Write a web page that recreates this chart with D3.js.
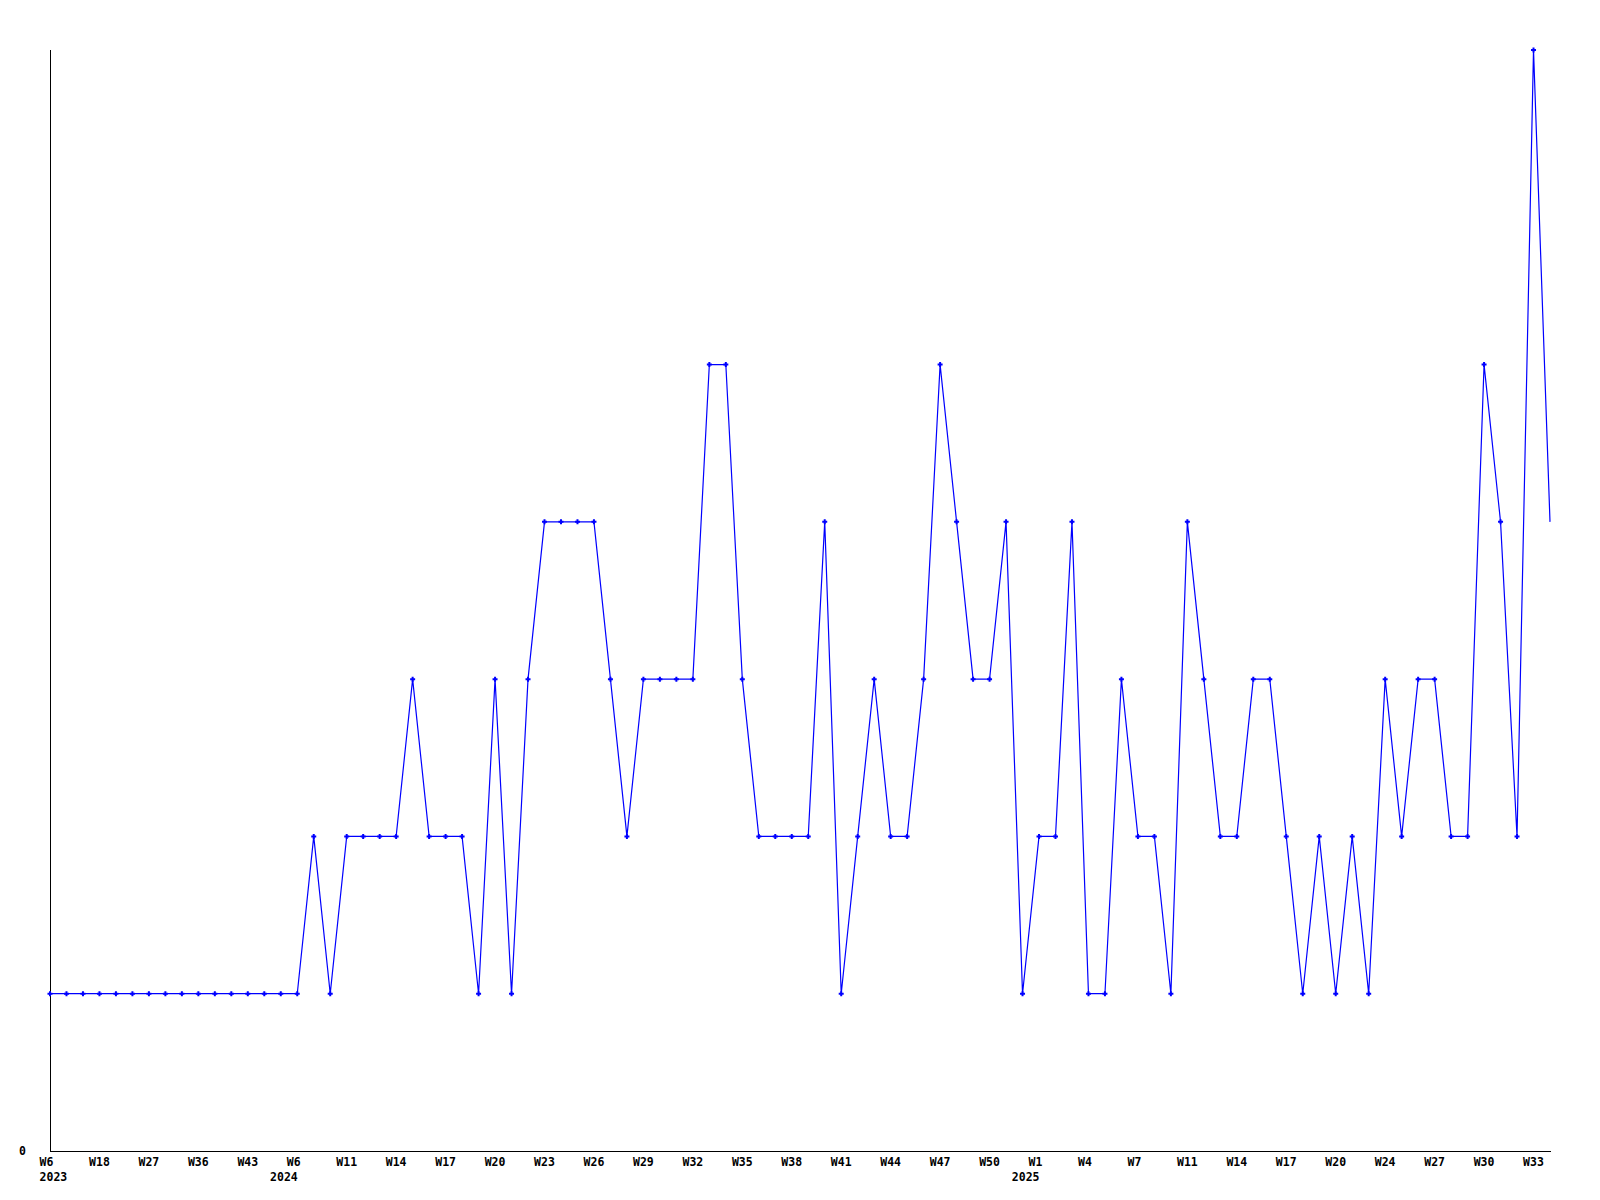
<!DOCTYPE html>
<html>
<head>
<meta charset="utf-8">
<script src="https://cdn.jsdelivr.net/npm/d3@7"></script>
<style>
  html, body { margin: 0; padding: 0; background: #fff; }
  svg { display: block; }
  text { font-family: "DejaVu Sans Mono", "Liberation Mono", monospace; font-weight: bold; font-size: 11.5px; fill: #000; }
</style>
</head>
<body>
<script>
// ---- data ----
const values = [1,1,1,1,1,1,1,1,1,1,1,1,1,1,1,1,
  2,1,2,2,2,2,3,2,2,2,1,3,1,3,4,4,4,4,3,2,3,3,3,3,5,5,3,2,2,2,2,4,1,2,
  3,2,2,3,5,4,3,3,4,1,2,2,4,1,1,3,2,2,1,4,3,2,2,3,3,2,1,2,1,2,1,3,2,3,
  3,2,2,5,4,2,7,4];
const tickLabels = ["W6","W18","W27","W36","W43","W6","W11","W14","W17","W20","W23","W26","W29","W32","W35","W38","W41","W44","W47","W50","W1","W4","W7","W11","W14","W17","W20","W24","W27","W30","W33"];
const tickStep = 3;
const yearLabels = ["2023","2024","2025"];
const yearIndex = [0, 15, 60];
const yTicks = [0];

// ---- chart ----
const W = 1600, H = 1200;
const svg = d3.select("body").append("svg").attr("width", W).attr("height", H);

const x = d3.scaleLinear().domain([0, values.length - 1]).range([50, 1550]);
const y = d3.scaleLinear().domain([0, 7]).range([1151, 50]);

// axes
svg.append("line").attr("x1", 50.5).attr("x2", 50.5).attr("y1", y(7)).attr("y2", y(0) + 0.5)
  .attr("stroke", "#000").attr("stroke-width", 1.2).attr("shape-rendering", "crispEdges");
svg.append("line").attr("x1", 50).attr("x2", 1551).attr("y1", y(0) + 0.5).attr("y2", y(0) + 0.5)
  .attr("stroke", "#000").attr("stroke-width", 1.2).attr("shape-rendering", "crispEdges");

// y tick label
svg.selectAll("text.yt").data(yTicks).enter().append("text")
  .attr("class", "yt").attr("x", 26).attr("y", d => y(d) + 3.5).attr("text-anchor", "end").text(d => d);

// x tick labels
svg.selectAll("text.xt").data(tickLabels).enter().append("text")
  .attr("class", "xt")
  .attr("x", (d, i) => x(i * tickStep) - 10.4)
  .attr("y", 1165.5)
  .text(d => d);

// year labels
svg.selectAll("text.yr").data(yearLabels).enter().append("text")
  .attr("class", "yr")
  .attr("x", (d, i) => yearIndex[i] === 0 ? x(0) - 10.4 : x(yearIndex[i]) + 0.5)
  .attr("y", 1181)
  .attr("text-anchor", (d, i) => yearIndex[i] === 0 ? "start" : "end")
  .text(d => d);

// line
const line = d3.line().x((d, i) => x(i)).y(d => y(d));
svg.append("path").datum(values).attr("d", line)
  .attr("fill", "none").attr("stroke", "#0000ff").attr("stroke-width", 1.2);

// markers (all but last point)
const marker = "M-2.5,-1h5v2h-5z M-1,-2.5h2v5h-2z";
svg.selectAll("path.mk").data(values.slice(0, values.length - 1)).enter().append("path")
  .attr("class", "mk")
  .attr("transform", (d, i) => `translate(${x(i)},${y(d)})`)
  .attr("d", marker)
  .attr("fill", "#0000ff");
</script>
</body>
</html>
